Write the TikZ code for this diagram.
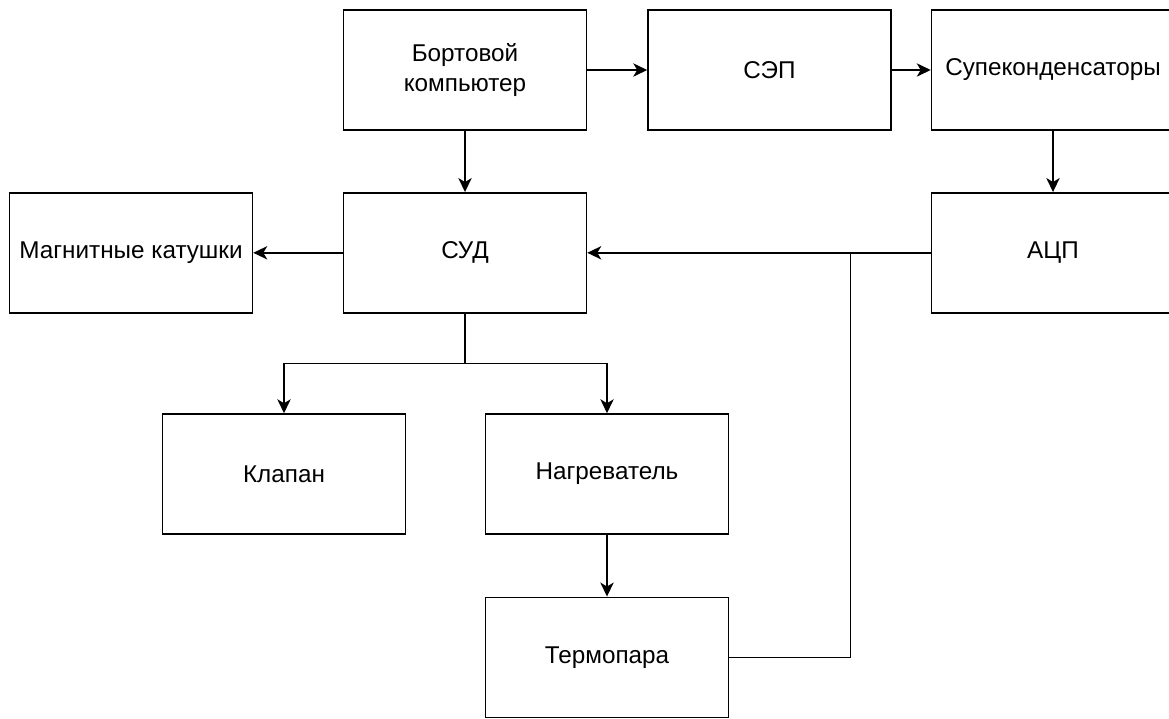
\documentclass[tikz,border=0pt]{standalone}
\usepackage{fontspec}
\setmainfont{Liberation Sans}
\usetikzlibrary{arrows.meta}
\begin{document}
\begin{tikzpicture}[x=0.75pt,y=-0.75pt,
  box/.style={draw,line width=1.15pt,minimum width=182.25pt,minimum height=90pt,inner sep=0pt,align=center,font=\fontsize{18.2}{22.5}\selectfont},
  conn/.style={line width=1.15pt},
  arr/.style={conn,-{Stealth[length=10.5pt,width=10pt,inset=3pt]}}]
\useasboundingbox (0,0) rectangle (1169,718);
\node[box] (bk) at (465,70) {Бортовой\\компьютер};
\node[box] (sep) at (769.5,70) {СЭП};
\node[box] (sup) at (1053,70) {Супеконденсаторы};
\node[box] (mag) at (131,252.8) {Магнитные катушки};
\node[box] (sud) at (465,252.8) {СУД};
\node[box] (adc) at (1053,252.8) {АЦП};
\node[box] (kl) at (284,474) {Клапан};
\node[box] (nag) at (607,474) {Нагреватель};
\node[box] (ter) at (607,657.3) {Термопара};
\coordinate (j1) at (850.5,252.8);
\coordinate (j2) at (465,363.3);
\draw[arr] (bk) -- (sep);
\draw[arr] (sep) -- (sup);
\draw[arr] (bk) -- (sud);
\draw[arr] (sup) -- (adc);
\draw[arr] (adc) -- (sud);
\draw[arr] (sud) -- (mag);
\draw[conn] (ter.east) -| (j1);
\draw[conn] (sud.south) -- (j2);
\draw[arr] (j2) -| (kl.north);
\draw[arr] (j2) -| (nag.north);
\draw[arr] (nag) -- (ter);
\end{tikzpicture}
\end{document}
